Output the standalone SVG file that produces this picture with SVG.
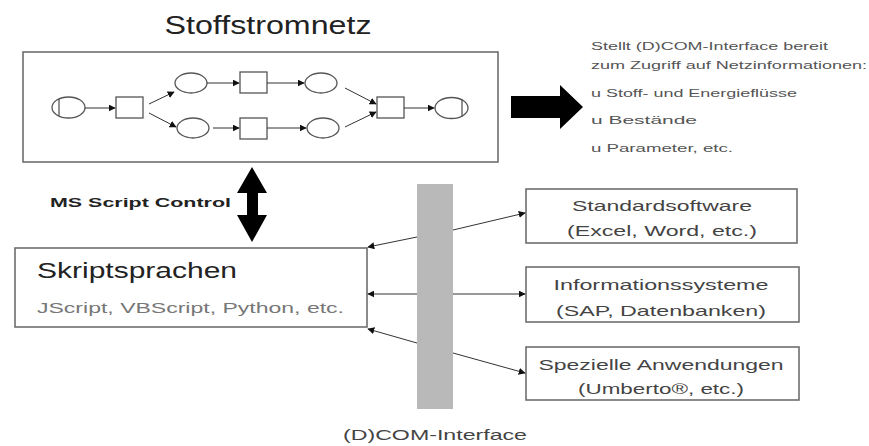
<svg xmlns="http://www.w3.org/2000/svg" width="869" height="446" viewBox="0 0 869 446">
<defs>
<style>
.box{fill:#fff;stroke:#6e6e6e;stroke-width:1.6}
.pn{fill:#fff;stroke:#555;stroke-width:1.3}
.ln{stroke:#333;stroke-width:1;fill:none}
.t{font-family:"Liberation Sans",Arial,sans-serif;fill:#444}
.c{text-anchor:middle}
.info{fill:#555}
</style>
<marker id="ah" viewBox="0 0 10 10" refX="9" refY="5" markerWidth="7" markerHeight="7" markerUnits="userSpaceOnUse" orient="auto">
<path d="M0,0 L10,5 L0,10 Z" fill="#111"/>
</marker>
</defs>
<rect width="869" height="446" fill="#fff"/>

<g id="stoffstromnetz">
<text class="t c" x="268" y="34" font-size="26" style="fill:#222" textLength="207" lengthAdjust="spacingAndGlyphs">Stoffstromnetz</text>
<rect class="box" x="23" y="52" width="475" height="110" stroke-width="2"/>
<g id="petri-nodes">
<ellipse class="pn" cx="68.5" cy="107.5" rx="16.5" ry="10.5"/>
<line class="pn" x1="59" y1="99" x2="59" y2="116"/>
<rect class="pn" x="116" y="97" width="27" height="21"/>
<ellipse class="pn" cx="191" cy="83" rx="16" ry="10"/>
<ellipse class="pn" cx="193" cy="128" rx="16" ry="10"/>
<rect class="pn" x="240" y="72" width="27" height="21"/>
<rect class="pn" x="240" y="118" width="27" height="21"/>
<ellipse class="pn" cx="321" cy="83" rx="16" ry="10"/>
<ellipse class="pn" cx="323" cy="128" rx="16" ry="10"/>
<rect class="pn" x="377" y="97" width="27" height="21"/>
<ellipse class="pn" cx="451.5" cy="108" rx="16.5" ry="10.5"/>
<line class="pn" x1="462" y1="99" x2="462" y2="117"/>
</g>
<g id="petri-arcs">
<line class="ln" x1="85" y1="108" x2="115" y2="108" marker-end="url(#ah)"/>
<line class="ln" x1="149" y1="104" x2="174" y2="92" marker-end="url(#ah)"/>
<line class="ln" x1="149" y1="113" x2="176" y2="127" marker-end="url(#ah)"/>
<line class="ln" x1="207" y1="83" x2="239" y2="83" marker-end="url(#ah)"/>
<line class="ln" x1="267" y1="83" x2="304" y2="83" marker-end="url(#ah)"/>
<line class="ln" x1="213" y1="128" x2="239" y2="128" marker-end="url(#ah)"/>
<line class="ln" x1="267" y1="128" x2="306" y2="128" marker-end="url(#ah)"/>
<line class="ln" x1="345" y1="88" x2="376" y2="104" marker-end="url(#ah)"/>
<line class="ln" x1="345" y1="127" x2="376" y2="112" marker-end="url(#ah)"/>
<line class="ln" x1="404" y1="108" x2="434" y2="108" marker-end="url(#ah)"/>
</g>
</g>

<g id="info-text">
<text class="t info" font-size="11" x="591" y="50" textLength="237" lengthAdjust="spacingAndGlyphs">Stellt (D)COM-Interface bereit</text>
<text class="t info" font-size="11" x="591" y="69" textLength="276" lengthAdjust="spacingAndGlyphs">zum Zugriff auf Netzinformationen:</text>
<text class="t info" font-size="11" x="591" y="97" textLength="206" lengthAdjust="spacingAndGlyphs">u Stoff- und Energieflüsse</text>
<text class="t info" font-size="11" x="591" y="124" textLength="106" lengthAdjust="spacingAndGlyphs">u Bestände</text>
<text class="t info" font-size="11" x="591" y="152" textLength="142" lengthAdjust="spacingAndGlyphs">u Parameter, etc.</text>
</g>

<g id="skriptsprachen">
<rect class="box" x="15" y="248" width="352" height="79"/>
<text class="t" font-size="22" x="37" y="278" style="fill:#222" textLength="200" lengthAdjust="spacingAndGlyphs">Skriptsprachen</text>
<text class="t" font-size="15" x="37" y="313" style="fill:#777" textLength="307" lengthAdjust="spacingAndGlyphs">JScript, VBScript, Python, etc.</text>
</g>

<g id="ms-script-control">
<text class="t" font-size="13" font-weight="bold" x="50" y="207" style="fill:#222" textLength="181" lengthAdjust="spacingAndGlyphs">MS Script Control</text>
</g>

<g id="dcom-interface">
<rect x="417" y="184" width="36" height="225" fill="#b9b9b9"/>
<text class="t c" font-size="15" x="435" y="440" textLength="184" lengthAdjust="spacingAndGlyphs">(D)COM-Interface</text>
</g>

<g id="standardsoftware">
<rect class="box" x="526" y="189" width="271" height="54"/>
<text class="t c" font-size="15" x="662" y="211" textLength="180" lengthAdjust="spacingAndGlyphs">Standardsoftware</text>
<text class="t c" font-size="15" x="662" y="236" textLength="190" lengthAdjust="spacingAndGlyphs">(Excel, Word, etc.)</text>
</g>
<g id="informationssysteme">
<rect class="box" x="526" y="267" width="273" height="55"/>
<text class="t c" font-size="15" x="661" y="290" textLength="215" lengthAdjust="spacingAndGlyphs">Informationssysteme</text>
<text class="t c" font-size="15" x="661" y="316" textLength="210" lengthAdjust="spacingAndGlyphs">(SAP, Datenbanken)</text>
</g>
<g id="spezielle-anwendungen">
<rect class="box" x="526" y="347" width="273" height="53"/>
<text class="t c" font-size="15" x="661" y="370" textLength="245" lengthAdjust="spacingAndGlyphs">Spezielle Anwendungen</text>
<text class="t c" font-size="15" x="661" y="394" textLength="166" lengthAdjust="spacingAndGlyphs">(Umberto®, etc.)</text>
</g>

<g id="connectors">
<polygon points="511,96 560,96 560,85 583,107 560,129 560,118 511,118" fill="#000"/>
<polygon points="252,167 267,193 258,193 258,215 267,215 252,242 237,215 247,215 247,193 237,193" fill="#000"/>
<line class="ln" x1="417" y1="237" x2="368" y2="247" marker-end="url(#ah)"/>
<line class="ln" x1="417" y1="294" x2="368" y2="294" marker-end="url(#ah)"/>
<line class="ln" x1="417" y1="343" x2="368" y2="329" marker-end="url(#ah)"/>
<line class="ln" x1="453" y1="230" x2="525" y2="213" marker-end="url(#ah)"/>
<line class="ln" x1="453" y1="294" x2="525" y2="294" marker-end="url(#ah)"/>
<line class="ln" x1="453" y1="353" x2="525" y2="373" marker-end="url(#ah)"/>
</g>
</svg>
